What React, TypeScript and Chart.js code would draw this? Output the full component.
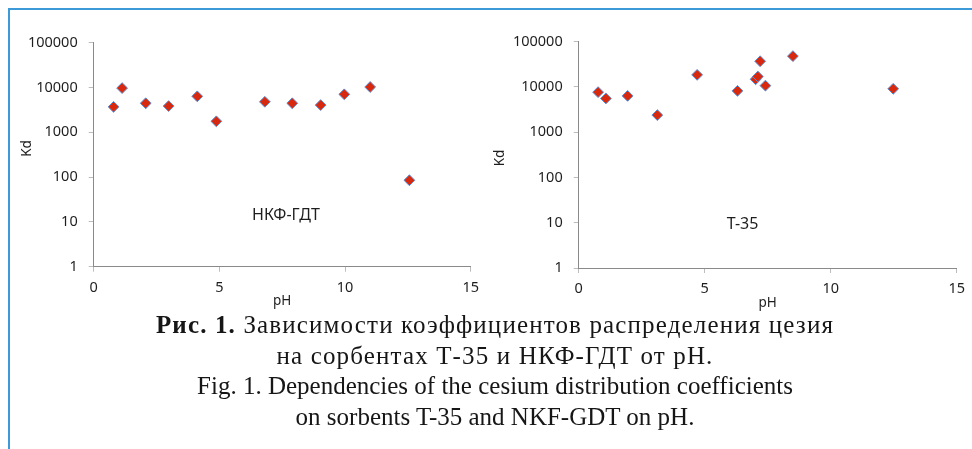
import React, { useEffect, useRef } from 'react';
import { Chart, registerables } from 'chart.js';

Chart.register(...registerables);

// ---- data ----
const phTicks = [0, 5, 10, 15];
const kdTicks = [1, 10, 100, 1000, 10000, 100000];

const nkfPH = [0.79, 1.13, 2.07, 2.98, 4.12, 4.88, 6.81, 7.9, 9.03, 9.97, 11.0, 12.56];
const nkfKd = [3700, 9700, 4450, 3850, 6350, 1760, 4800, 4450, 4050, 7050, 10250, 85];

const t35PH = [0.77, 1.08, 1.94, 3.12, 4.7, 6.3, 7.02, 7.11, 7.2, 7.41, 8.5, 12.48];
const t35Kd = [7680, 5570, 6350, 2390, 18500, 8200, 14800, 17000, 37000, 10700, 48000, 9100];

const nkfName = 'НКФ-ГДТ';
const t35Name = 'T-35';
const nkfNamePos = [7.65, 14.3];
const t35NamePos = [6.5, 9.2];

const xTitle = 'pH';
const yTitle = 'Kd';

const captionBold = 'Рис. 1.';
const captionLine1 = ' Зависимости коэффициентов распределения цезия';
const captionLine2 = 'на сорбентах Т-35 и НКФ-ГДТ от рН.';
const captionLine3 = 'Fig. 1. Dependencies of the cesium distribution coefficients';
const captionLine4 = 'on sorbents T-35 and NKF-GDT on pH.';

// ---- styles ----
const RED = '#d8280e';
const EDGE = '#5a8fd6';
const FRAME = '#3d9ad8';
const SANS = '"Noto Sans", "Liberation Sans", sans-serif';
const TXT = '#1e1e1e';

const textPlugin = {
  id: 'extraText',
  afterDraw(chart: any, _args: any, opts: any) {
    const ctx = chart.ctx;
    for (const t of opts.items || []) {
      ctx.save();
      ctx.font = t.font;
      ctx.fillStyle = TXT;
      ctx.textAlign = 'center';
      ctx.textBaseline = 'middle';
      let x: number, y: number;
      if (t.data) {
        x = chart.scales.x.getPixelForValue(t.data[0]);
        y = chart.scales.y.getPixelForValue(t.data[1]);
      } else {
        x = t.px[0];
        y = t.px[1];
      }
      ctx.translate(x, y);
      if (t.rotate) ctx.rotate(t.rotate);
      ctx.fillText(t.text, 0, 0);
      ctx.restore();
    }
  },
};

function makeConfig(xs: number[], ys: number[], name: string, namePos: number[], g: any): any {
  const tickFont = { family: SANS, size: 14.5 };
  const grid = { drawOnChartArea: false, drawTicks: true, tickLength: 5, color: '#bdbdbd', lineWidth: 1 };
  const border = { display: true, color: '#8a8a8a', width: 1 };
  return {
    type: 'scatter',
    data: {
      datasets: [
        {
          data: xs.map((x, i) => ({ x, y: ys[i] })),
          pointStyle: 'rectRot',
          pointRadius: 5.4,
          pointHoverRadius: 5.4,
          backgroundColor: RED,
          borderColor: EDGE,
          borderWidth: 1,
        },
      ],
    },
    options: {
      responsive: false,
      animation: false,
      devicePixelRatio: 1,
      events: [],
      layout: { padding: { left: 0, top: g.top, right: g.right, bottom: 0 } },
      plugins: {
        legend: { display: false },
        tooltip: { enabled: false },
        extraText: {
          items: [
            { text: name, data: namePos, font: `16px ${SANS}` },
            { text: yTitle, px: g.kd, rotate: -Math.PI / 2, font: `13.5px ${SANS}` },
          ],
        },
      },
      scales: {
        x: {
          type: 'linear',
          min: 0,
          max: 15,
          afterBuildTicks: (s: any) => {
            s.ticks = phTicks.map((v) => ({ value: v }));
          },
          afterFit: (s: any) => {
            s.height = g.xh;
          },
          ticks: { font: tickFont, color: TXT, padding: 7, maxRotation: 0, autoSkip: false, callback: (v: any) => String(v) },
          grid,
          border,
          title: { display: true, text: xTitle, font: { family: SANS, size: 13.5 }, color: TXT, padding: { top: 0, bottom: g.phPad } },
        },
        y: {
          type: 'logarithmic',
          min: 1,
          max: 100000,
          afterBuildTicks: (s: any) => {
            s.ticks = kdTicks.map((v) => ({ value: v }));
          },
          afterFit: (s: any) => {
            s.width = g.yw;
          },
          ticks: { font: tickFont, color: TXT, padding: 11, autoSkip: false, callback: (v: any) => String(v) },
          grid,
          border,
          title: { display: false },
        },
      },
    },
    plugins: [textPlugin],
  };
}

export default function App() {
  const c1 = useRef<HTMLCanvasElement>(null);
  const c2 = useRef<HTMLCanvasElement>(null);

  useEffect(() => {
    const a = new Chart(
      c1.current as HTMLCanvasElement,
      makeConfig(nkfPH, nkfKd, nkfName, nkfNamePos, { top: 42.7, right: 13.3, xh: 48.3, yw: 93.7, phPad: 6, kd: [27, 148.5] })
    );
    const b = new Chart(
      c2.current as HTMLCanvasElement,
      makeConfig(t35PH, t35Kd, t35Name, t35NamePos, { top: 41.7, right: 8.7, xh: 47, yw: 92.7, phPad: 4, kd: [14, 158] })
    );
    return () => {
      a.destroy();
      b.destroy();
    };
  }, []);

  const ru = { letterSpacing: '1.15px' };

  return (
    <div style={{ position: 'absolute', left: 0, top: 0, width: 972, height: 449, overflow: 'hidden', background: '#fff' }}>
      <canvas ref={c1} width={486} height={315} style={{ position: 'absolute', left: 0, top: 0, width: 486, height: 315 }} />
      <canvas ref={c2} width={486} height={315} style={{ position: 'absolute', left: 486, top: 0, width: 486, height: 315 }} />
      <div style={{ position: 'absolute', left: 8, top: 8, width: 964, height: 2, background: FRAME }} />
      <div style={{ position: 'absolute', left: 8, top: 8, width: 2, height: 441, background: FRAME }} />
      <div
        style={{
          position: 'absolute',
          left: 0,
          top: 310,
          width: 990,
          textAlign: 'center',
          fontFamily: '"Liberation Serif", "DejaVu Serif", serif',
          fontSize: 25,
          lineHeight: '30.5px',
          color: '#161616',
          whiteSpace: 'nowrap',
        }}
      >
        <div style={ru}>
          <b>{captionBold}</b>
          {captionLine1}
        </div>
        <div style={ru}>{captionLine2}</div>
        <div>{captionLine3}</div>
        <div>{captionLine4}</div>
      </div>
    </div>
  );
}
